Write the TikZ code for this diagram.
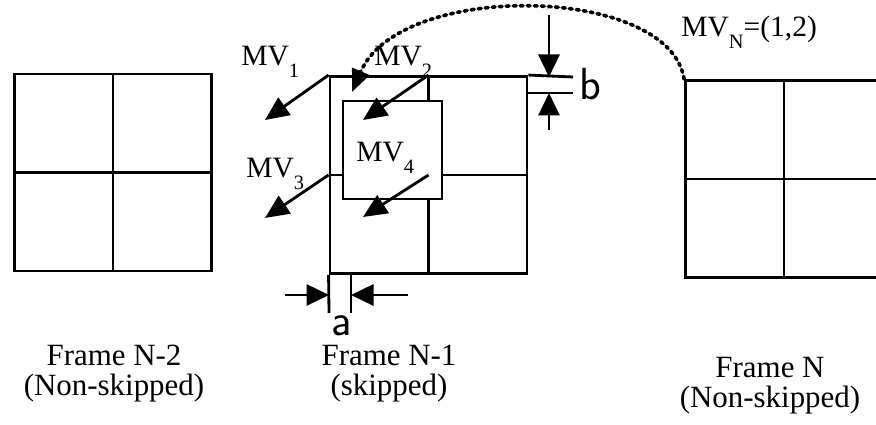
\documentclass[tikz,border=0pt]{standalone}
\usepackage{fontspec}
\setmainfont{Liberation Serif}
\usetikzlibrary{positioning,arrows.meta}

\newcommand{\mvlab}[1]{MV\raisebox{-8pt}{\fontsize{14.5}{14.5}\selectfont #1}}

\begin{document}
\begin{tikzpicture}[
    x=0.025cm, y=-0.025cm,
    line width=2pt,
    every node/.style={inner sep=0pt, font=\fontsize{21}{25}\selectfont},
    frame/.style={draw, minimum width=4.925cm, minimum height=4.925cm},
    block/.style={draw, fill=white, minimum width=2.475cm, minimum height=2.45cm},
    mvarrow/.style={-{Triangle[length=17pt,width=15pt]}},
    dimarrow/.style={-{Triangle[length=16pt,width=15pt]}},
    hop/.style={line width=2.6pt, dash pattern=on 2pt off 3pt, line cap=round, -{Triangle[length=16pt,width=13pt]}},
    mvtext/.style={anchor=base west},
    caption/.style={anchor=base, font=\fontsize{22}{26}\selectfont},
    dimtext/.style={font=\sffamily\fontsize{32}{32}\selectfont}
]
\useasboundingbox (0,0) rectangle (876,425);
\clip (0,0) rectangle (876,425);

% frames
\node[frame] (fl) at (113,172.5) {};
\node[frame] (fm) at (428.5,175) {};
\node[frame] (fr) at (784,179) {};
\draw (fl.north) -- (fl.south) (fl.west) -- (fl.east);
\draw (fm.north) -- (fm.south) (fm.west) -- (fm.east);
\draw (fr.north) -- (fr.south) (fr.west) -- (fr.east);
\node[block] (blk) at (392.5,150) {};

% motion vectors
\coordinate (t1) at (265,120);
\coordinate (t2) at (363,120);
\coordinate (t3) at (265,218);
\coordinate (t4) at (363,217);
\draw[mvarrow] (fm.north west) -- (t1);
\draw[mvarrow] (fm.north) -- (t2);
\draw[mvarrow] (fm.west) -- (t3);
\draw[mvarrow] (fm.center) -- (t4);

\node[mvtext] (mv1) at (240,66) {\mvlab{1}};
\node[mvtext] (mv2) at (373,66) {\mvlab{2}};
\node[mvtext] (mv3) at (245,178) {\mvlab{3}};
\node[mvtext] (mv4) at (355,162) {\mvlab{4}};
\node[mvtext] (mvn) at (680,37) {\mvlab{N}=(1,2)};

% dotted hop from frame N
\coordinate (hopend) at (352,92);
\draw[hop] (fr.north west) .. controls (670,-15) and (400,-20) .. (hopend);

% dimension b
\coordinate (bt) at (573,77);
\coordinate (bb) at (573,93);
\draw (fm.north east) -- (bt);
\draw (fm.north east |- bb) -- (bb);
\coordinate (bdn) at (549,15);
\coordinate (bup) at (549,130);
\draw[dimarrow] (bdn) -- (bdn |- bt);
\draw[dimarrow] (bup) -- (bup |- bb);
\node[dimtext] (blab) at (590,84) {b};

% dimension a
\coordinate (al) at (329,313);
\coordinate (ar) at (351,313);
\draw (fm.south west) -- (al);
\draw (ar |- fm.south) -- (ar);
\coordinate (aol) at (285,295);
\coordinate (aor) at (408,295);
\draw[dimarrow] (aol) -- (aol -| al);
\draw[dimarrow] (aor) -- (aor -| ar);
\node[dimtext] (alab) at (342,326) {a};

% captions
\node[caption] (capl1) at (114,366) {Frame N-2};
\node[caption] (capl2) at (114,396) {(Non-skipped)};
\node[caption] (capm1) at (389,366) {Frame N-1};
\node[caption] (capm2) at (389,396) {(skipped)};
\node[caption] (capr1) at (770,378) {Frame N};
\node[caption] (capr2) at (770,408) {(Non-skipped)};

\end{tikzpicture}
\end{document}
